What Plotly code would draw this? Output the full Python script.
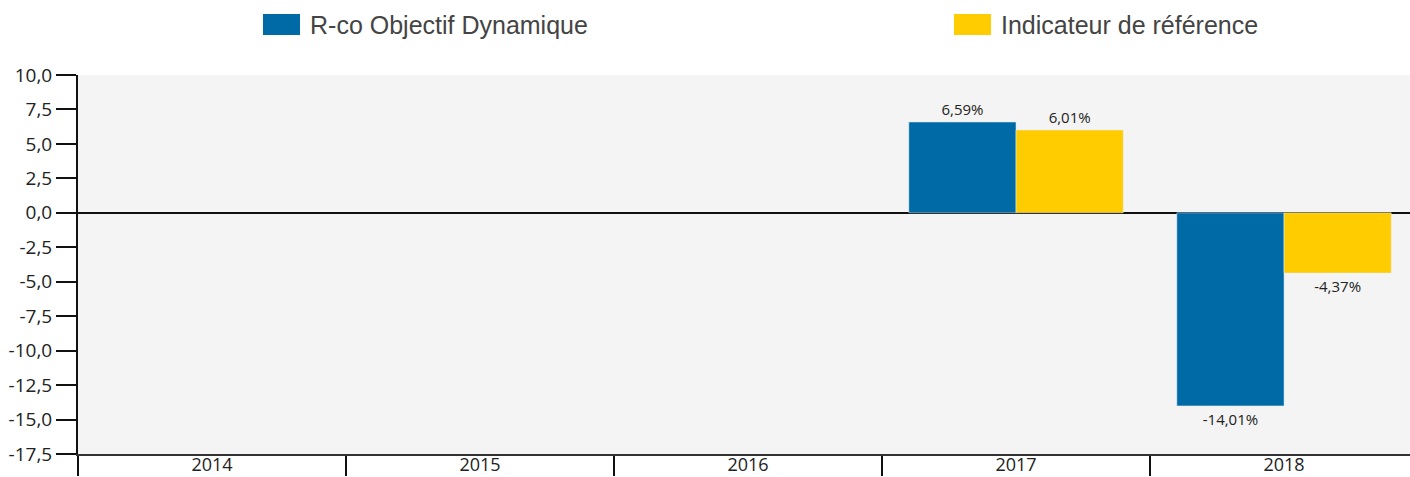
import plotly.graph_objects as go

years = ["2014", "2015", "2016", "2017", "2018"]
fund_name = "R-co Objectif Dynamique"
bench_name = "Indicateur de référence"
fund_values = [None, None, None, 6.59, -14.01]
bench_values = [None, None, None, 6.01, -4.37]
y_tick_vals = [10.0, 7.5, 5.0, 2.5, 0.0, -2.5, -5.0, -7.5, -10.0, -12.5, -15.0, -17.5]
y_tick_text = ["10,0", "7,5", "5,0", "2,5", "0,0", "-2,5", "-5,0", "-7,5", "-10,0", "-12,5", "-15,0", "-17,5"]

BLUE = "#006aa6"
YELLOW = "#ffcc00"

def labels(vals):
    return [("" if v is None else ("%.2f%%" % v).replace(".", ",")) for v in vals]

fig = go.Figure()
fig.add_trace(go.Bar(x=years, y=fund_values, name=fund_name, marker_color=BLUE,
                     text=labels(fund_values), textposition="outside",
                     textfont=dict(family="Open Sans", size=15, color="#222"),
                     cliponaxis=False))
fig.add_trace(go.Bar(x=years, y=bench_values, name=bench_name, marker_color=YELLOW,
                     text=labels(bench_values), textposition="outside",
                     textfont=dict(family="Open Sans", size=15, color="#222"),
                     cliponaxis=False))

fig.update_layout(
    width=1410, height=477,
    margin=dict(l=78, r=0, t=75, b=23, autoexpand=False),
    paper_bgcolor="white", plot_bgcolor="#f4f4f4",
    barmode="group", bargap=0.2, bargroupgap=0,
    showlegend=False,
    separators=", ",
    font=dict(family="Open Sans", size=19, color="#222"),
)
fig.update_xaxes(
    type="category", range=[-0.5, 4.47], automargin=False,
    showline=True, linecolor="#333", linewidth=2,
    ticks="outside", tickson="boundaries", ticklen=20, tickwidth=1.5, tickcolor="#111",
    ticklabelstandoff=-7,
    showgrid=False, tickfont=dict(family="Open Sans", size=18, color="#222"),
)
fig.update_yaxes(
    range=[-17.5, 10], tickvals=y_tick_vals, ticktext=y_tick_text, automargin=False,
    showline=True, linecolor="#111", linewidth=2,
    ticks="outside", ticklen=20, tickwidth=2, tickcolor="#111",
    showgrid=False, zeroline=True, zerolinecolor="#111", zerolinewidth=1.5,
    tickfont=dict(family="Open Sans", size=19, color="#222"),
)

# manual legend
legend_items = [(fund_name, BLUE, 263), (bench_name, YELLOW, 954)]
W = 1410 - 78
H = 454 - 75
for name, col, px in legend_items:
    x0 = (px - 78) / W
    x1 = (px + 37 - 78) / W
    fig.add_shape(type="rect", xref="paper", yref="paper",
                  x0=x0, x1=x1, y0=(454 - 35) / H, y1=(454 - 14) / H,
                  fillcolor=col, line_width=0)
    fig.add_annotation(xref="paper", yref="paper", x=(px + 45 - 78) / W, y=(454 - 25) / H,
                       text=name, showarrow=False, xanchor="left", yanchor="middle",
                       font=dict(family="Liberation Sans", size=25, color="#444"))

fig.write_html("out.html", config={"displayModeBar": False},
               post_script="document.body.style.margin='0px';document.body.style.overflow='hidden';")
